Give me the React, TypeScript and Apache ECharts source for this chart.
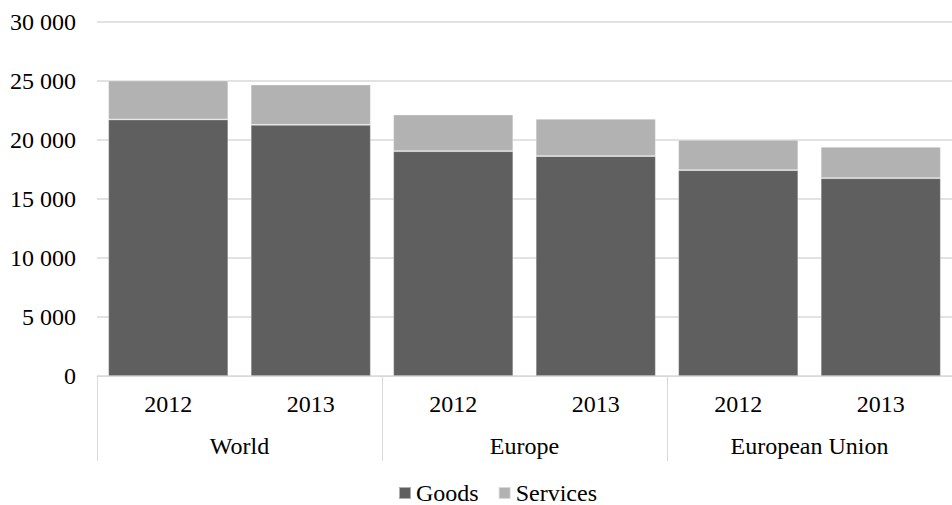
import React, { useEffect, useRef } from "react";
import * as echarts from "echarts";

const years = ["2012", "2013", "2012", "2013", "2012", "2013"];
const groups = ["World", "Europe", "European Union"];
const goods = [21740, 21290, 19050, 18630, 17440, 16760];
const services = [3300, 3410, 3110, 3170, 2580, 2660];
const yTicks = { min: 0, max: 30000, interval: 5000 };

const FONT = "Liberation Serif, DejaVu Serif, serif";

export default function App() {
  const ref = useRef<HTMLDivElement>(null);
  useEffect(() => {
    if (!ref.current) return;
    const chart = echarts.init(ref.current, null, { renderer: "svg" });
    const fmt = (v: number) => String(v).replace(/\B(?=(\d{3})+(?!\d))/g, " ");
    const lbl = { fontFamily: FONT, fontSize: 24, color: "#000" };
    chart.setOption({
      animation: false,
      textStyle: { fontFamily: FONT },
      grid: { left: 97, right: -11, top: 22, bottom: 129, containLabel: false },
      legend: {
        data: ["Goods", "Services"],
        left: 398,
        top: 481,
        padding: 0,
        itemWidth: 12,
        itemHeight: 12,
        itemGap: 19,
        icon: "rect",
        textStyle: { ...lbl, lineHeight: 24 },
      },
      xAxis: [
        {
          type: "category",
          data: years,
          position: "bottom",
          axisLine: { show: true, lineStyle: { color: "#d9d9d9", width: 1 } },
          axisTick: { show: false },
          axisLabel: { interval: 0, margin: 16, ...lbl },
        },
        {
          type: "category",
          data: groups,
          position: "bottom",
          axisLine: { show: false },
          axisTick: {
            show: true,
            interval: 0,
            length: 85,
            lineStyle: { color: "#d9d9d9", width: 1 },
          },
          axisLabel: { interval: 0, margin: 58, ...lbl },
        },
      ],
      yAxis: {
        type: "value",
        min: yTicks.min,
        max: yTicks.max,
        interval: yTicks.interval,
        axisLine: { show: false },
        axisTick: { show: false },
        splitLine: { lineStyle: { color: "#d9d9d9", width: 1.5 } },
        axisLabel: { margin: 21, ...lbl, formatter: (v: number) => fmt(v) },
      },
      series: [
        {
          name: "Goods",
          type: "bar",
          stack: "total",
          xAxisIndex: 0,
          barWidth: 120,
          data: goods,
          itemStyle: { color: "#5f5f5f", borderColor: "rgba(255,255,255,0.5)", borderWidth: 0.75 },
        },
        {
          name: "Services",
          type: "bar",
          stack: "total",
          xAxisIndex: 0,
          barWidth: 120,
          data: services,
          itemStyle: { color: "#b2b2b2", borderColor: "rgba(255,255,255,0.5)", borderWidth: 0.75 },
        },
      ],
    });
    return () => chart.dispose();
  }, []);
  return <div ref={ref} style={{ width: 952, height: 505, position: "absolute", left: 0, top: 0 }} />;
}
